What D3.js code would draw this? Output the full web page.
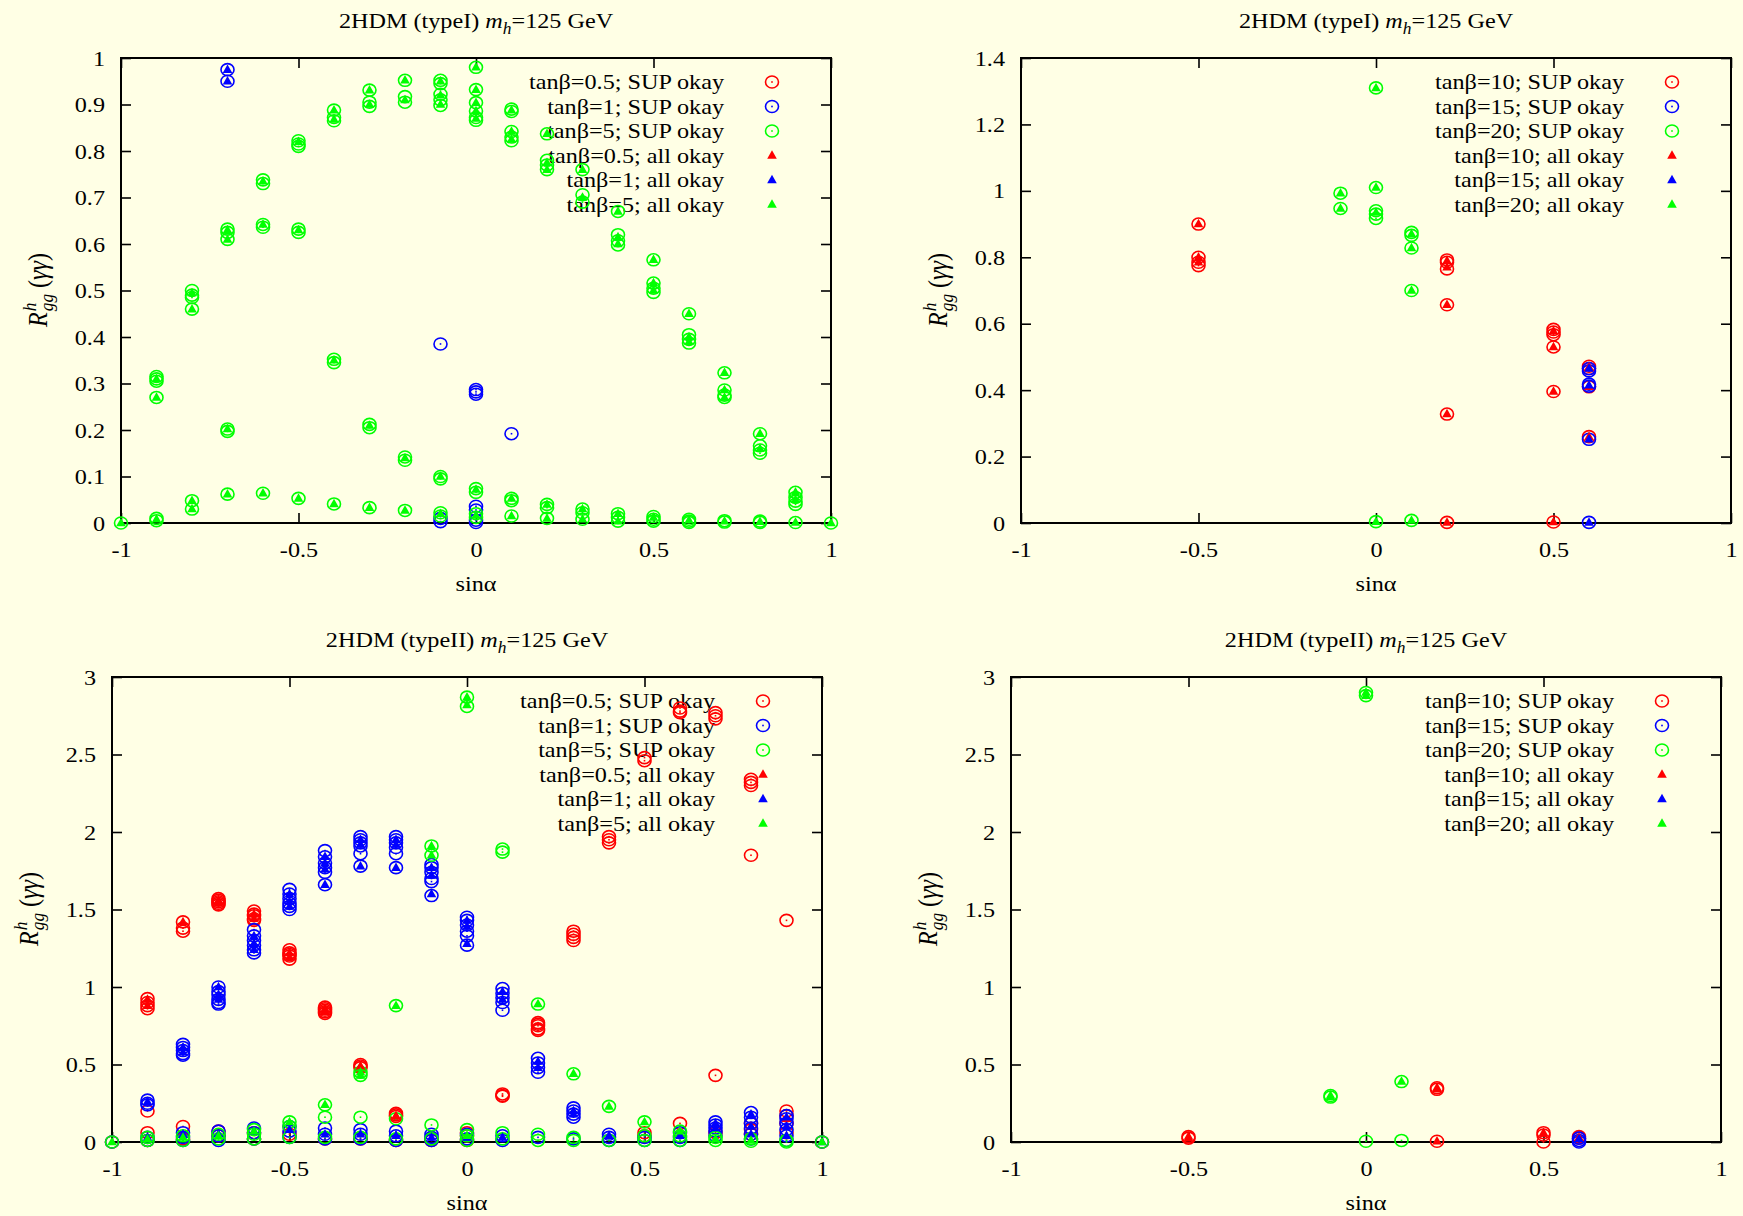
<!DOCTYPE html>
<html>
<head>
<meta charset="utf-8">
<script src="https://cdn.jsdelivr.net/npm/d3@7"></script>
<style>
  html, body { margin: 0; padding: 0; background: #ffffe5; }
  svg { display: block; }
  text { font-family: "Liberation Serif", "Times New Roman", serif; fill: #000; }
</style>
</head>
<body>
<svg id="chart" width="1743" height="1216"></svg>
<script>
// ---------------------------------------------------------------------------
// Data: each series is a list of [sinα, [R values...]] columns.
// "sup" = SUP okay (open circles), "all" = all okay (filled triangles).
// ---------------------------------------------------------------------------

// 2HDM type I, tanβ = 0.5, 1, 5
const typeI_tb05_sup = [];
const typeI_tb05_all = [];
const typeI_tb1_sup = [
  [-0.7, [0.975, 0.95]],
  [-0.1, [0.385, 0.01, 0.003]],
  [0, [0.287, 0.282, 0.277, 0.036, 0.028, 0.006, 0.001]],
  [0.1, [0.192]]
];
const typeI_tb1_all = [
  [-0.7, [0.975, 0.95]]
];
const typeI_tb5_sup = [
  [-1, [0]],
  [-0.9, [0.315, 0.31, 0.305, 0.27, 0.01, 0.005]],
  [-0.8, [0.5, 0.49, 0.485, 0.46, 0.048, 0.03]],
  [-0.7, [0.632, 0.625, 0.61, 0.202, 0.197, 0.062]],
  [-0.6, [0.738, 0.73, 0.642, 0.636, 0.064]],
  [-0.5, [0.822, 0.815, 0.81, 0.632, 0.625, 0.053]],
  [-0.4, [0.888, 0.872, 0.865, 0.352, 0.345, 0.041]],
  [-0.3, [0.931, 0.905, 0.896, 0.212, 0.205, 0.033]],
  [-0.2, [0.952, 0.917, 0.905, 0.142, 0.135, 0.027]],
  [-0.1, [0.952, 0.945, 0.922, 0.91, 0.898, 0.1, 0.095, 0.022, 0.015]],
  [0, [0.98, 0.932, 0.904, 0.886, 0.872, 0.866, 0.074, 0.066, 0.02, 0.012]],
  [0.1, [0.89, 0.885, 0.842, 0.83, 0.822, 0.053, 0.048, 0.015]],
  [0.2, [0.837, 0.78, 0.77, 0.76, 0.04, 0.033, 0.01]],
  [0.3, [0.76, 0.706, 0.69, 0.03, 0.022, 0.008]],
  [0.4, [0.67, 0.62, 0.607, 0.598, 0.02, 0.012, 0.004]],
  [0.5, [0.566, 0.516, 0.505, 0.496, 0.014, 0.008, 0.004]],
  [0.6, [0.45, 0.405, 0.395, 0.387, 0.008, 0.004, 0.001]],
  [0.7, [0.323, 0.286, 0.275, 0.27, 0.005, 0.002]],
  [0.8, [0.192, 0.166, 0.157, 0.15, 0.004, 0.001]],
  [0.9, [0.066, 0.055, 0.047, 0.04, 0.001]],
  [1, [0]]
];
const typeI_tb5_all = [
  [-1, [0]],
  [-0.9, [0.31, 0.27, 0.008]],
  [-0.8, [0.495, 0.46, 0.048, 0.03]],
  [-0.7, [0.63, 0.61, 0.202, 0.062]],
  [-0.6, [0.735, 0.642, 0.064]],
  [-0.5, [0.82, 0.63, 0.053]],
  [-0.4, [0.888, 0.868, 0.35, 0.041]],
  [-0.3, [0.931, 0.9, 0.21, 0.033]],
  [-0.2, [0.952, 0.91, 0.14, 0.027]],
  [-0.1, [0.95, 0.92, 0.9, 0.1, 0.02]],
  [0, [0.98, 0.932, 0.904, 0.886, 0.87, 0.072, 0.016]],
  [0.1, [0.888, 0.842, 0.825, 0.053, 0.015]],
  [0.2, [0.837, 0.775, 0.76, 0.04, 0.01]],
  [0.3, [0.76, 0.7, 0.03, 0.008]],
  [0.4, [0.67, 0.615, 0.6, 0.02, 0.004]],
  [0.5, [0.566, 0.516, 0.5, 0.012]],
  [0.6, [0.45, 0.4, 0.39, 0.006]],
  [0.7, [0.323, 0.286, 0.27, 0.004]],
  [0.8, [0.192, 0.16, 0.003]],
  [0.9, [0.066, 0.05, 0.001]],
  [1, [0]]
];

// 2HDM type I, tanβ = 10, 15, 20
const typeI_tb10_sup = [
  [-0.5, [0.9, 0.8, 0.785, 0.775]],
  [0.2, [0.792, 0.785, 0.765, 0.657, 0.328, 0.002]],
  [0.5, [0.583, 0.575, 0.567, 0.53, 0.396, 0.003]],
  [0.6, [0.472, 0.465, 0.41, 0.26]]
];
const typeI_tb10_all = [
  [-0.5, [0.9, 0.8, 0.785]],
  [0.2, [0.79, 0.77, 0.657, 0.328, 0.002]],
  [0.5, [0.578, 0.53, 0.396, 0.003]],
  [0.6, [0.47, 0.41, 0.26]]
];
const typeI_tb15_sup = [
  [0.6, [0.465, 0.458, 0.418, 0.412, 0.252, 0.002]]
];
const typeI_tb15_all = [
  [0.6, [0.465, 0.415, 0.252, 0.002]]
];
const typeI_tb20_sup = [
  [-0.1, [0.993, 0.947]],
  [0, [1.31, 1.01, 0.94, 0.93, 0.917, 0.004]],
  [0.1, [0.875, 0.866, 0.828, 0.7, 0.008]]
];
const typeI_tb20_all = [
  [-0.1, [0.993, 0.947]],
  [0, [1.31, 1.01, 0.935, 0.004]],
  [0.1, [0.87, 0.828, 0.7, 0.008]]
];

// 2HDM type II, tanβ = 0.5, 1, 5
const typeII_tb05_sup = [
  [-1, [0]],
  [-0.9, [0.925, 0.9, 0.88, 0.86, 0.2, 0.06, 0.01]],
  [-0.8, [1.42, 1.38, 1.36, 0.1, 0.02]],
  [-0.7, [1.57, 1.56, 1.55, 1.54, 1.53, 0.07, 0.04]],
  [-0.6, [1.49, 1.47, 1.46, 1.44, 1.43, 0.06, 0.02]],
  [-0.5, [1.24, 1.22, 1.21, 1.2, 1.18, 0.05]],
  [-0.4, [0.87, 0.86, 0.85, 0.84, 0.83, 0.02]],
  [-0.3, [0.5, 0.49, 0.48, 0.02]],
  [-0.2, [0.185, 0.175, 0.165, 0.01]],
  [-0.1, [0.02, 0.01]],
  [0, [0.06, 0.04, 0.01]],
  [0.1, [0.31, 0.3, 0.295]],
  [0.2, [0.77, 0.76, 0.75, 0.73, 0.72]],
  [0.3, [1.36, 1.34, 1.32, 1.3]],
  [0.4, [1.97, 1.95, 1.93]],
  [0.5, [2.48, 2.46, 0.06, 0.04]],
  [0.6, [2.8, 2.78, 2.77, 0.12]],
  [0.7, [2.77, 2.75, 2.73, 0.43, 0.06]],
  [0.8, [2.34, 2.32, 2.3, 1.85, 0.12, 0.08, 0.05]],
  [0.9, [1.43, 0.2, 0.17, 0.12, 0.06]],
  [1, [0]]
];
const typeII_tb05_all = [
  [-0.9, [0.92, 0.88]],
  [-0.8, [1.42]],
  [-0.7, [1.56, 1.54]],
  [-0.6, [1.47, 1.44]],
  [-0.5, [1.22, 1.19]],
  [-0.4, [0.86, 0.84]],
  [-0.3, [0.49]],
  [-0.2, [0.17]],
  [0.8, [0.1]],
  [0.9, [0.15]]
];
const typeII_tb1_sup = [
  [-1, [0]],
  [-0.9, [0.27, 0.25, 0.24, 0.03, 0.01]],
  [-0.8, [0.63, 0.61, 0.59, 0.57, 0.56, 0.06, 0.03, 0.01]],
  [-0.7, [1.0, 0.97, 0.95, 0.92, 0.9, 0.89, 0.07, 0.04, 0.01]],
  [-0.6, [1.37, 1.33, 1.3, 1.27, 1.24, 1.22, 0.09, 0.06, 0.02]],
  [-0.5, [1.63, 1.6, 1.57, 1.54, 1.52, 1.5, 0.1, 0.07, 0.03]],
  [-0.4, [1.88, 1.84, 1.8, 1.77, 1.74, 1.66, 0.09, 0.05, 0.02]],
  [-0.3, [1.97, 1.95, 1.93, 1.91, 1.86, 1.78, 0.08, 0.05, 0.02]],
  [-0.2, [1.97, 1.95, 1.93, 1.9, 1.86, 1.77, 0.07, 0.04, 0.01]],
  [-0.1, [1.79, 1.77, 1.74, 1.7, 1.68, 1.59, 0.05, 0.03, 0.01]],
  [0, [1.45, 1.43, 1.4, 1.36, 1.33, 1.27, 0.05, 0.02]],
  [0.1, [0.99, 0.96, 0.93, 0.9, 0.85, 0.04, 0.01]],
  [0.2, [0.54, 0.51, 0.48, 0.45, 0.03]],
  [0.3, [0.22, 0.2, 0.18, 0.16, 0.02]],
  [0.4, [0.05, 0.03, 0.01]],
  [0.5, [0.03, 0.01]],
  [0.6, [0.06, 0.03, 0.01]],
  [0.7, [0.13, 0.11, 0.09, 0.07, 0.04]],
  [0.8, [0.19, 0.16, 0.12, 0.09, 0.05, 0.02]],
  [0.9, [0.17, 0.15, 0.12, 0.08, 0.04, 0.01]],
  [1, [0]]
];
const typeII_tb1_all = [
  [-0.9, [0.26, 0.03]],
  [-0.8, [0.61, 0.58, 0.05]],
  [-0.7, [1.0, 0.95, 0.92, 0.05]],
  [-0.6, [1.33, 1.28, 1.24, 0.07]],
  [-0.5, [1.6, 1.55, 1.52, 0.08]],
  [-0.4, [1.84, 1.8, 1.76, 1.66, 0.05]],
  [-0.3, [1.95, 1.92, 1.78, 0.05]],
  [-0.2, [1.95, 1.92, 1.77, 0.04]],
  [-0.1, [1.77, 1.72, 1.6, 0.03]],
  [0, [1.43, 1.39, 1.28, 0.03]],
  [0.1, [0.97, 0.92, 0.03]],
  [0.2, [0.52, 0.48]],
  [0.3, [0.2, 0.18]],
  [0.4, [0.04]],
  [0.6, [0.04]],
  [0.7, [0.12, 0.09]],
  [0.8, [0.18, 0.1, 0.05]],
  [0.9, [0.16, 0.1, 0.04]],
  [1, [0]]
];
const typeII_tb5_sup = [
  [-1, [0]],
  [-0.9, [0.03, 0.01]],
  [-0.8, [0.04, 0.01]],
  [-0.7, [0.05, 0.02]],
  [-0.6, [0.08, 0.05, 0.02]],
  [-0.5, [0.13, 0.1, 0.03]],
  [-0.4, [0.24, 0.16, 0.03]],
  [-0.3, [0.45, 0.43, 0.16, 0.03]],
  [-0.2, [0.88, 0.15, 0.02]],
  [-0.1, [1.91, 1.85, 0.11, 0.02]],
  [0, [2.87, 2.81, 0.08, 0.04, 0.01]],
  [0.1, [1.89, 1.87, 0.06, 0.02]],
  [0.2, [0.89, 0.05, 0.01]],
  [0.3, [0.44, 0.03, 0.01]],
  [0.4, [0.23, 0.01]],
  [0.5, [0.13, 0.04, 0.01]],
  [0.6, [0.07, 0.04, 0.01]],
  [0.7, [0.03, 0.01]],
  [0.8, [0.02, 0.005]],
  [0.9, [0.01, 0]],
  [1, [0]]
];
const typeII_tb5_all = [
  [-1, [0]],
  [-0.9, [0.02]],
  [-0.8, [0.03]],
  [-0.7, [0.04]],
  [-0.6, [0.07]],
  [-0.5, [0.13]],
  [-0.4, [0.24]],
  [-0.3, [0.45, 0.43]],
  [-0.2, [0.88]],
  [-0.1, [1.91, 1.85]],
  [0, [2.87, 2.82, 0.04]],
  [0.2, [0.89]],
  [0.3, [0.44]],
  [0.4, [0.23]],
  [0.5, [0.13]],
  [0.6, [0.07]],
  [0.7, [0.02]],
  [0.8, [0.01]],
  [1, [0]]
];

// 2HDM type II, tanβ = 10, 15, 20
const typeII_tb10_sup = [
  [-0.5, [0.035, 0.025]],
  [0.2, [0.35, 0.34, 0.005]],
  [0.5, [0.06, 0.045, 0.0]],
  [0.6, [0.035, 0.025]]
];
const typeII_tb10_all = [
  [-0.5, [0.035, 0.025]],
  [0.2, [0.35, 0.34, 0.005]],
  [0.5, [0.06]],
  [0.6, [0.03]]
];
const typeII_tb15_sup = [
  [0.6, [0.025, 0.01, 0.0]]
];
const typeII_tb15_all = [
  [0.6, [0.02]]
];
const typeII_tb20_sup = [
  [-0.1, [0.3, 0.29]],
  [0, [2.9, 2.88, 0.005]],
  [0.1, [0.39, 0.01]]
];
const typeII_tb20_all = [
  [-0.1, [0.3, 0.29]],
  [0, [2.9, 2.88]],
  [0.1, [0.39]]
];

// Axis ticks and labels
const sinAlphaTicks = [-1, -0.5, 0, 0.5, 1];
const yTicksTypeILow = [0, 0.1, 0.2, 0.3, 0.4, 0.5, 0.6, 0.7, 0.8, 0.9, 1];
const yTicksTypeIHigh = [0, 0.2, 0.4, 0.6, 0.8, 1, 1.2, 1.4];
const yTicksTypeII = [0, 0.5, 1, 1.5, 2, 2.5, 3];

const legendLow = ["tanβ=0.5; SUP okay", "tanβ=1; SUP okay", "tanβ=5; SUP okay",
                   "tanβ=0.5; all okay", "tanβ=1; all okay", "tanβ=5; all okay"];
const legendHigh = ["tanβ=10; SUP okay", "tanβ=15; SUP okay", "tanβ=20; SUP okay",
                    "tanβ=10; all okay", "tanβ=15; all okay", "tanβ=20; all okay"];
const seriesColors = ["#ff0000", "#0000ff", "#00ff00"];

// ---------------------------------------------------------------------------
// Layout of the four panels
// ---------------------------------------------------------------------------
const panels = [
  { model: "typeI", left: 121, right: 831, top: 58, bottom: 523, ymax: 1, yTicks: yTicksTypeILow,
    legend: legendLow, sup: [typeI_tb05_sup, typeI_tb1_sup, typeI_tb5_sup],
    all: [typeI_tb05_all, typeI_tb1_all, typeI_tb5_all] },
  { model: "typeI", left: 1021, right: 1731, top: 58, bottom: 523, ymax: 1.4, yTicks: yTicksTypeIHigh,
    legend: legendHigh, sup: [typeI_tb10_sup, typeI_tb15_sup, typeI_tb20_sup],
    all: [typeI_tb10_all, typeI_tb15_all, typeI_tb20_all] },
  { model: "typeII", left: 112, right: 822, top: 677, bottom: 1142, ymax: 3, yTicks: yTicksTypeII,
    legend: legendLow, sup: [typeII_tb05_sup, typeII_tb1_sup, typeII_tb5_sup],
    all: [typeII_tb05_all, typeII_tb1_all, typeII_tb5_all] },
  { model: "typeII", left: 1011, right: 1721, top: 677, bottom: 1142, ymax: 3, yTicks: yTicksTypeII,
    legend: legendHigh, sup: [typeII_tb10_sup, typeII_tb15_sup, typeII_tb20_sup],
    all: [typeII_tb10_all, typeII_tb15_all, typeII_tb20_all] }
];

const FONT = 22;      // base font size
const SX = 1.1;       // horizontal stretch applied to text
const svg = d3.select("#chart");

svg.append("rect").attr("width", 1743).attr("height", 1216).attr("fill", "#ffffe5");

const flatten = cols => cols.flatMap(([x, ys]) => ys.map(y => [x, y]));

function stretchText(sel) {
  sel.each(function () {
    const t = d3.select(this);
    const x = +t.attr("x") || 0, y = +t.attr("y") || 0;
    t.attr("x", 0).attr("y", 0)
      .attr("transform", `translate(${x},${y}) scale(${SX},1)`);
  });
}

function styleAxis(g) {
  g.select(".domain").remove();
  g.attr("font-family", null).attr("font-size", FONT);
  g.selectAll(".tick line").attr("stroke", "#000").attr("stroke-width", 1.6);
}

const triPath = "M0,-5.2L4.8,3.3L-4.8,3.3Z";

function drawCircles(g, pts, color) {
  const sel = g.append("g");
  sel.selectAll("ellipse").data(pts).join("ellipse")
    .attr("cx", d => d.px).attr("cy", d => d.py)
    .attr("rx", 6.5).attr("ry", 6.0)
    .attr("fill", "none").attr("stroke", color).attr("stroke-width", 1.6);
  sel.selectAll("rect").data(pts).join("rect")
    .attr("x", d => d.px - 0.8).attr("y", d => d.py - 0.8)
    .attr("width", 1.6).attr("height", 1.6).attr("fill", color);
}

function drawTriangles(g, pts, color) {
  g.append("g").selectAll("path").data(pts).join("path")
    .attr("d", triPath)
    .attr("transform", d => `translate(${d.px},${d.py})`)
    .attr("fill", color);
}

// Rotated y-axis title R^h_gg (γγ)
function yLabel(g, cx, cy) {
  const size = 24;
  const lg = g.append("g").attr("transform", `translate(${cx},${cy}) rotate(-90) scale(1,${SX})`);
  const small = size * 0.72;
  const R = lg.append("text").attr("font-style", "italic").attr("font-size", size).text("R");
  const h = lg.append("text").attr("font-style", "italic").attr("font-size", small).text("h");
  const gg = lg.append("text").attr("font-style", "italic").attr("font-size", small).text("gg");
  const rest = lg.append("text").attr("font-size", size);
  rest.append("tspan").text("\u00a0(");
  rest.append("tspan").attr("font-style", "italic").text("γγ");
  rest.append("tspan").text(")");
  const wR = R.node().getComputedTextLength();
  const wS = Math.max(h.node().getComputedTextLength(), gg.node().getComputedTextLength());
  const wRest = rest.node().getComputedTextLength();
  const x0 = -(wR + wS + wRest) / 2;
  R.attr("x", x0);
  h.attr("x", x0 + wR + 1).attr("y", -10);
  gg.attr("x", x0 + wR + 1).attr("y", 5);
  rest.attr("x", x0 + wR + wS + 1);
}

panels.forEach(p => {
  const x = d3.scaleLinear().domain([-1, 1]).range([p.left, p.right]);
  const y = d3.scaleLinear().domain([0, p.ymax]).range([p.bottom, p.top]);
  const g = svg.append("g");
  const cx = (p.left + p.right) / 2;

  // Title
  const title = g.append("text").attr("x", cx).attr("y", p.top - 30)
    .attr("text-anchor", "middle").attr("font-size", FONT);
  title.append("tspan").text(`2HDM (${p.model}) `);
  title.append("tspan").attr("font-style", "italic").text("m");
  title.append("tspan").attr("font-style", "italic").attr("font-size", FONT * 0.72)
    .attr("dy", 6).text("h");
  title.append("tspan").attr("dy", -6).text("=125 GeV");
  stretchText(title);

  // Axes: ticks point inward on all four sides
  g.append("g").attr("transform", `translate(0,${p.bottom})`)
    .call(d3.axisBottom(x).tickValues(sinAlphaTicks).tickFormat(d => String(d))
      .tickSizeInner(-10).tickSizeOuter(0).tickPadding(18))
    .call(styleAxis).call(s => stretchText(s.selectAll("text")));
  g.append("g").attr("transform", `translate(0,${p.top})`)
    .call(d3.axisTop(x).tickValues(sinAlphaTicks).tickFormat("")
      .tickSizeInner(-10).tickSizeOuter(0))
    .call(styleAxis);
  g.append("g").attr("transform", `translate(${p.left},0)`)
    .call(d3.axisLeft(y).tickValues(p.yTicks).tickFormat(d => String(d))
      .tickSizeInner(-10).tickSizeOuter(0).tickPadding(16))
    .call(styleAxis).call(s => stretchText(s.selectAll("text")));
  g.append("g").attr("transform", `translate(${p.right},0)`)
    .call(d3.axisRight(y).tickValues(p.yTicks).tickFormat("")
      .tickSizeInner(-10).tickSizeOuter(0))
    .call(styleAxis);

  // Frame
  g.append("rect").attr("x", p.left).attr("y", p.top)
    .attr("width", p.right - p.left).attr("height", p.bottom - p.top)
    .attr("fill", "none").attr("stroke", "#000").attr("stroke-width", 2);

  // Axis titles
  const xl = g.append("text").attr("x", cx).attr("y", p.bottom + 68)
    .attr("text-anchor", "middle").attr("font-size", FONT).text("sinα");
  stretchText(xl);
  yLabel(g, p.left - 74, (p.top + p.bottom) / 2);

  // Legend labels
  const legendText = g.append("g");
  const keyX = p.right - 59;
  p.legend.forEach((label, i) => {
    const ry = p.top + 24 + i * 24.5;
    const t = legendText.append("text").attr("x", p.right - 107).attr("y", ry + 7)
      .attr("text-anchor", "end").attr("font-size", FONT).text(label);
    stretchText(t);
  });

  // Data: open circles for SUP okay, then filled triangles for all okay
  const toPx = cols => flatten(cols).map(([a, b]) => ({ px: x(a), py: y(b) }));
  p.sup.forEach((cols, k) => {
    const ry = p.top + 24 + k * 24.5;
    drawCircles(g, [{ px: keyX, py: ry }], seriesColors[k]);
    drawCircles(g, toPx(cols), seriesColors[k]);
  });
  p.all.forEach((cols, k) => {
    const ry = p.top + 24 + (k + 3) * 24.5;
    drawTriangles(g, [{ px: keyX, py: ry }], seriesColors[k]);
    drawTriangles(g, toPx(cols), seriesColors[k]);
  });
});
</script>
</body>
</html>
